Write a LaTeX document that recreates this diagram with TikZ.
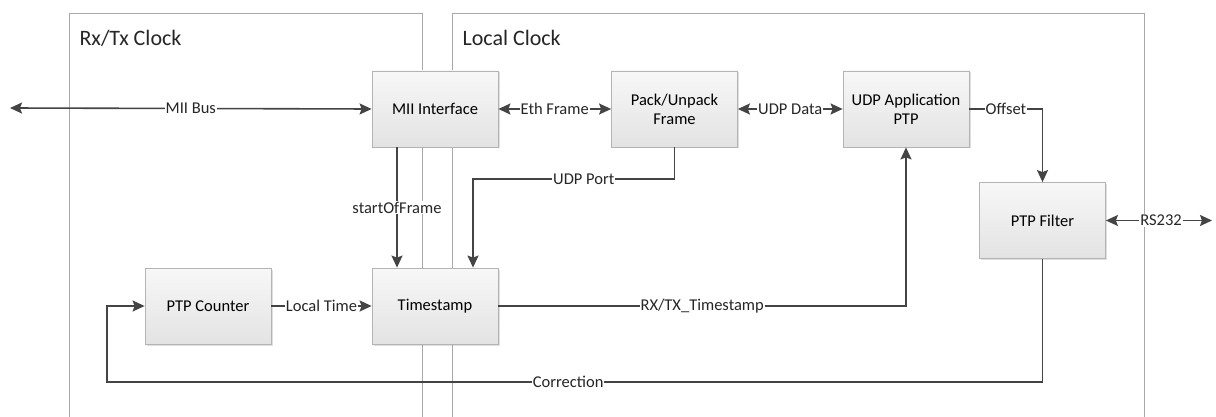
\documentclass[tikz,border=0pt]{standalone}
\usepackage{fontspec}
\setmainfont{Carlito}
\usetikzlibrary{arrows.meta,shadows,calc}
\definecolor{linecol}{HTML}{444444}
\definecolor{framecol}{HTML}{A8A8A8}
\definecolor{boxline}{HTML}{B4B4B4}
\begin{document}
\begin{tikzpicture}[x=1pt,y=-1pt,
  font=\fontsize{16.5}{19}\selectfont,
  blockbox/.style={draw=boxline, line width=0.8pt, top color=white!97!black, bottom color=white!89!black,
    minimum width=126pt, minimum height=76pt, align=center, inner sep=2pt,
    drop shadow={opacity=0.25, shadow xshift=1.5pt, shadow yshift=-1.5pt}},
  container/.style={draw=framecol, line width=0.8pt},
  conn/.style={draw=linecol, line width=1.6pt, -{Stealth[length=12pt,width=11pt,inset=2pt]}},
  bconn/.style={draw=linecol, line width=1.6pt, {Stealth[length=12pt,width=11pt,inset=2pt]}-{Stealth[length=12pt,width=11pt,inset=2pt]}},
  lbl/.style={fill=white, inner sep=1pt, text=black!85},
  title/.style={font=\fontsize{22}{26}\selectfont, anchor=west, text=black!85}
]
\useasboundingbox (0,0) rectangle (1216,417);
\fill[white] (0,0) rectangle (1216,417);
% containers
\draw[container] (69,430) -- (69,13) -- (422,13) -- (422,430);
\draw[container] (452,430) -- (452,13) -- (1144,13) -- (1144,430);
\node[title] (t1) at (76,38) {Rx/Tx Clock};
\node[title] (t2) at (459,38) {Local Clock};
% boxes
\node[blockbox] (mii) at (435,109) {MII Interface};
\node[blockbox] (pack) at (674.5,109) {Pack/Unpack\\Frame};
\node[blockbox] (udp) at (906,109) {UDP Application\\PTP};
\node[blockbox] (filt) at (1042.5,220.5) {PTP Filter};
\node[blockbox] (cnt) at (208,306) {PTP Counter};
\node[blockbox] (ts) at (435,306) {Timestamp};
% free ends
\coordinate (miiend) at (10,108);
\coordinate (rsend) at (1212,220.5);
\coordinate (corrR) at (1042.5,382);
\coordinate (corrL) at (107,382);
% connectors
\draw[bconn] (miiend) -- node[lbl] {MII Bus} (mii.west);
\draw[bconn] (mii.east) -- node[lbl] {Eth Frame} (pack.west);
\draw[bconn] (pack.east) -- node[lbl] {UDP Data} (udp.west);
\draw[conn] (udp.east) -- node[lbl] {Offset} (udp.east -| filt.north) -- (filt.north);
\draw[bconn] (filt.east) -- node[lbl, pos=0.52] {RS232} (rsend);
\draw[conn] (mii.south -| 397,0) -- node[lbl] {startOfFrame} (ts.north -| 397,0);
\draw[conn] (pack.south) -- (pack.south |- 0,179) -- node[lbl, pos=0.45] {UDP Port} (473,179) -- (ts.north -| 473,0);
\draw[conn] (cnt.east) -- node[lbl] {Local Time} (ts.west);
\draw[conn] (ts.east) -- node[lbl] {RX/TX\_Timestamp} (ts.east -| udp.south) -- (udp.south);
\draw[conn] (filt.south) -- (corrR) -- node[lbl, pos=0.507] {Correction} (corrL) -- (corrL |- cnt.west) -- (cnt.west);
\end{tikzpicture}
\end{document}
